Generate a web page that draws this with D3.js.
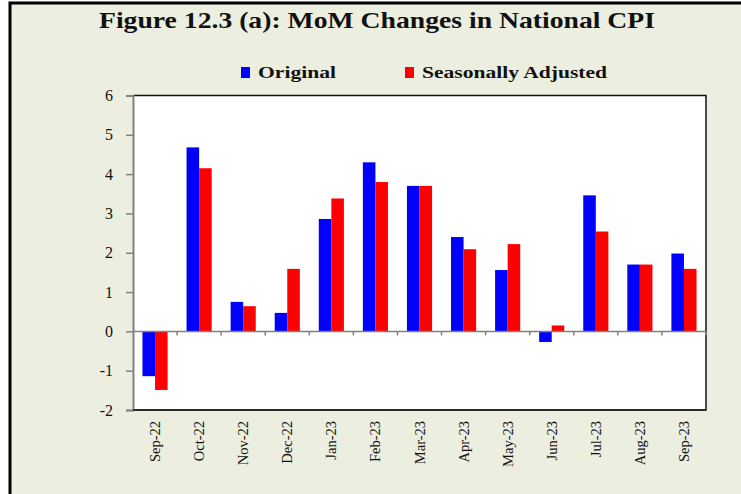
<!DOCTYPE html>
<html>
<head>
<meta charset="utf-8">
<script src="https://cdn.jsdelivr.net/npm/d3@7"></script>
<style>
  body { margin: 0; background: #fff; }
  text { font-family: "Liberation Serif", "Times New Roman", serif; fill: #111; }
</style>
</head>
<body>
<svg id="chart" width="741" height="494"></svg>
<script>
// months on the x axis
const months = ['Sep-22', 'Oct-22', 'Nov-22', 'Dec-22', 'Jan-23', 'Feb-23', 'Mar-23',
                'Apr-23', 'May-23', 'Jun-23', 'Jul-23', 'Aug-23', 'Sep-23'];
// MoM change, percent
const original = [-1.14, 4.68, 0.75, 0.47, 2.86, 4.30, 3.70, 2.40, 1.56, -0.27, 3.46, 1.70, 1.98];
const seasonallyAdjusted = [-1.49, 4.15, 0.64, 1.59, 3.38, 3.80, 3.70, 2.09, 2.22, 0.15, 2.54, 1.70, 1.59];
const seriesNames = ['Original', 'Seasonally Adjusted'];
const seriesColors = ['#0000ff', '#ff0000'];
const yTicks = [-2, -1, 0, 1, 2, 3, 4, 5, 6];

const svg = d3.select('#chart');

// outer panel with black frame on top and left
svg.append('rect').attr('x', 10).attr('y', 3).attr('width', 740).attr('height', 500)
  .attr('fill', '#eceee0').attr('stroke', '#000').attr('stroke-width', 3);

const plotL = 133, plotR = 706, plotT = 95.5, plotB = 410;

const x = d3.scaleBand().domain(months).range([plotL, plotR]);
const xs = d3.scaleBand().domain(seriesNames).range([0, x.bandwidth() * 0.57])
  .paddingInner(0);
const y = d3.scaleLinear().domain([-2, 6]).range([plotB, plotT]);

// plot area
svg.append('rect').attr('x', plotL).attr('y', plotT)
  .attr('width', plotR - plotL).attr('height', plotB - plotT)
  .attr('fill', '#fff');
// top and right border (dark)
svg.append('path')
  .attr('d', `M${plotL},${plotT}H${plotR}V${plotB}H${plotL}`)
  .attr('fill', 'none').attr('stroke', '#111').attr('stroke-width', 1.5);

// bars
const rows = months.map((m, i) => ({ month: m, values: [original[i], seasonallyAdjusted[i]] }));
const groups = svg.append('g').selectAll('g').data(rows).enter().append('g')
  .attr('transform', d => `translate(${x(d.month) + (x.bandwidth() - xs.range()[1]) / 2},0)`);
groups.selectAll('rect')
  .data(d => d.values.map((v, j) => ({ name: seriesNames[j], v: v, c: seriesColors[j] })))
  .enter().append('rect')
  .attr('x', d => xs(d.name))
  .attr('width', xs.bandwidth())
  .attr('y', d => y(Math.max(0, d.v)))
  .attr('height', d => Math.abs(y(d.v) - y(0)))
  .attr('fill', d => d.c);

// y axis
const yAxis = svg.append('g').attr('transform', `translate(${plotL},0)`)
  .call(d3.axisLeft(y).tickValues(yTicks).tickSize(7).tickPadding(13).tickFormat(d => String(d)));
yAxis.select('.domain').attr('stroke', '#808080').attr('stroke-width', 2);
yAxis.selectAll('.tick line').attr('stroke', '#808080').attr('stroke-width', 1.5);
yAxis.selectAll('.tick text').style('font-size', '16px').attr('fill', '#222');

// zero line with ticks at category boundaries
svg.append('line').attr('x1', plotL).attr('x2', plotR).attr('y1', y(0)).attr('y2', y(0))
  .attr('stroke', '#808080').attr('stroke-width', 1.5);
svg.append('g').selectAll('line').data(months.slice(1).concat(['end'])).enter().append('line')
  .attr('x1', (d, i) => i < months.length - 1 ? x(d) : plotR)
  .attr('x2', (d, i) => i < months.length - 1 ? x(d) : plotR)
  .attr('y1', y(0)).attr('y2', y(0) + 4)
  .attr('stroke', '#808080').attr('stroke-width', 1.5);

// bottom line
svg.append('line').attr('x1', plotL).attr('x2', plotR).attr('y1', plotB).attr('y2', plotB)
  .attr('stroke', '#222').attr('stroke-width', 1.5);

// x labels, rotated
svg.append('g').selectAll('text').data(months).enter().append('text')
  .attr('transform', d => `translate(${x(d) + x.bandwidth() / 2 + 5},421) rotate(-90)`)
  .attr('text-anchor', 'end')
  .style('font-size', '14.5px')
  .text(d => d);

// title (the reference face is wide, so stretch to its width)
svg.append('text').attr('x', 99).attr('y', 28)
  .attr('textLength', 556).attr('lengthAdjust', 'spacingAndGlyphs')
  .style('font-size', '23px').style('font-weight', 'bold')
  .text('Figure 12.3 (a): MoM Changes in National CPI');

// legend
const legendX = [241, 405];
const legendW = [78, 185];
const legend = svg.append('g').selectAll('g').data(seriesNames).enter().append('g')
  .attr('transform', (d, i) => `translate(${legendX[i]},67)`);
legend.append('rect').attr('width', 9).attr('height', 11).attr('fill', (d, i) => seriesColors[i]);
legend.append('text').attr('x', 17).attr('y', 11).style('font-size', '17px')
  .attr('textLength', (d, i) => legendW[i]).attr('lengthAdjust', 'spacingAndGlyphs')
  .style('font-weight', 'bold').text(d => d);
</script>
</body>
</html>
